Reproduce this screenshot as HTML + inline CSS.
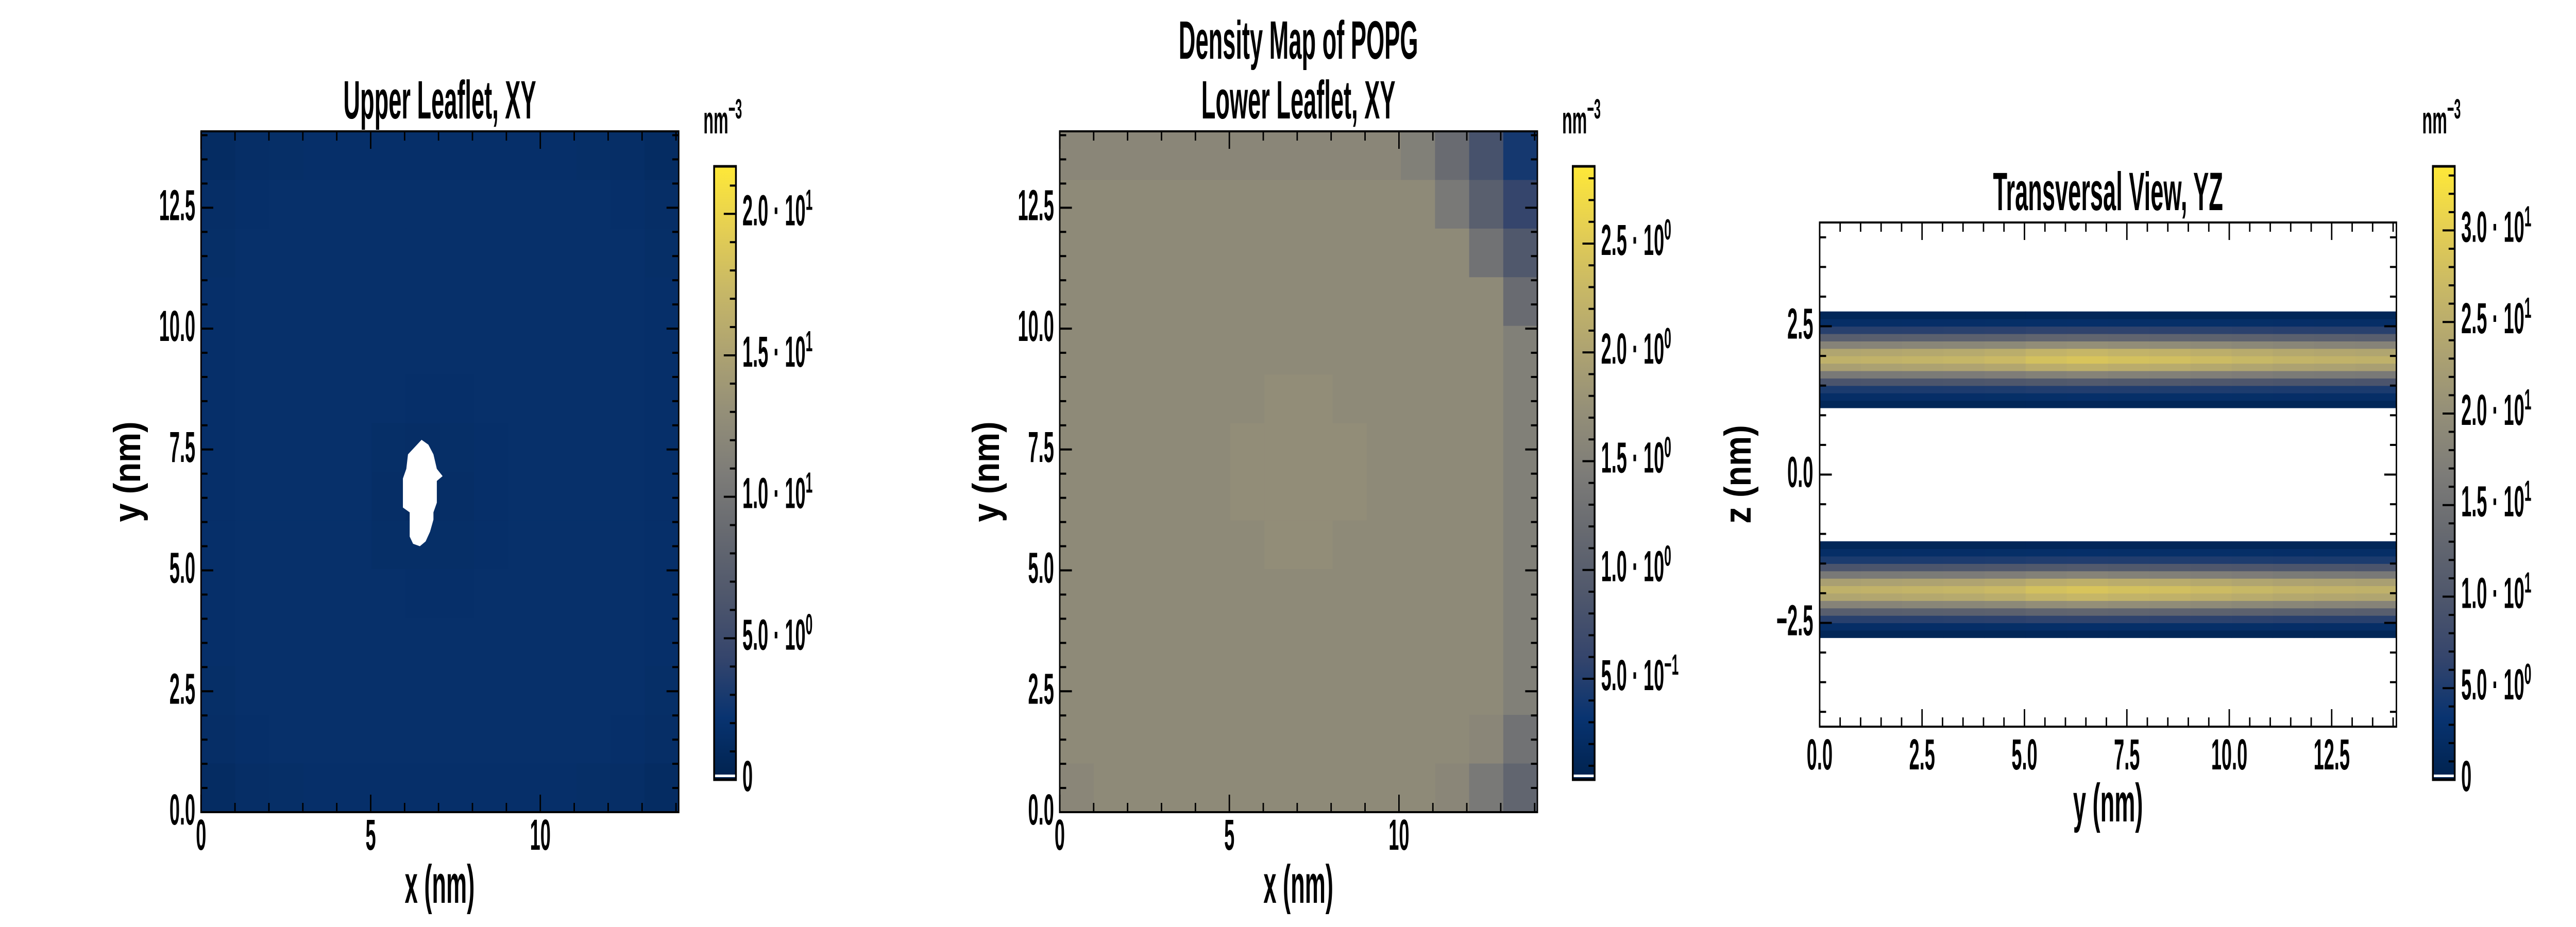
<!DOCTYPE html>
<html><head><meta charset="utf-8">
<style>
html,body{margin:0;padding:0;background:#fff;overflow:hidden;width:100vw;height:100vh;}
svg{display:block;width:100vw;height:100vh;}
text{font-family:"Liberation Sans",sans-serif;font-weight:bold;fill:#000;}
</style></head>
<body>
<svg id="fig" xmlns="http://www.w3.org/2000/svg" viewBox="0 0 7200 1800" preserveAspectRatio="none">
<defs>
<linearGradient id="cividis" x1="0" y1="1" x2="0" y2="0">
<stop offset="0" stop-color="#00224e"/><stop offset="0.1" stop-color="#083370"/><stop offset="0.2" stop-color="#35456c"/>
<stop offset="0.3" stop-color="#4f576c"/><stop offset="0.4" stop-color="#666970"/><stop offset="0.5" stop-color="#7d7c78"/>
<stop offset="0.6" stop-color="#948f78"/><stop offset="0.7" stop-color="#aea371"/><stop offset="0.8" stop-color="#c8b866"/>
<stop offset="0.9" stop-color="#e5cf52"/><stop offset="1" stop-color="#fee838"/>
</linearGradient>
</defs>
</svg>
<script>
// ---------- data ----------
// Panel 1: upper leaflet density (14x14 grid, rows from top y=13..14 down to y=0..1), nm^-3
const p1Rows = [
[1.3,1.5,1.6,1.7,1.7,1.7,1.7,1.7,1.7,1.7,1.7,1.6,1.5,1.3],
[1.5,1.7,1.8,1.8,1.8,1.8,1.8,1.8,1.8,1.8,1.8,1.8,1.7,1.5],
[1.6,1.8,1.8,1.8,1.8,1.8,1.8,1.8,1.8,1.8,1.8,1.8,1.8,1.6],
[1.7,1.8,1.8,1.8,1.8,1.8,1.8,1.8,1.8,1.8,1.8,1.8,1.8,1.7],
[1.7,1.8,1.8,1.8,1.8,1.8,1.8,1.8,1.8,1.8,1.8,1.8,1.8,1.7],
[1.7,1.8,1.8,1.8,1.8,1.8,1.7,1.7,1.8,1.8,1.8,1.8,1.8,1.7],
[1.7,1.8,1.8,1.8,1.8,1.6,1.5,1.6,1.7,1.8,1.8,1.8,1.8,1.7],
[1.7,1.8,1.8,1.8,1.8,1.5,1.3,1.5,1.7,1.8,1.8,1.8,1.8,1.7],
[1.7,1.8,1.8,1.8,1.8,1.6,1.6,1.6,1.7,1.8,1.8,1.8,1.8,1.7],
[1.7,1.8,1.8,1.8,1.8,1.8,1.7,1.7,1.8,1.8,1.8,1.8,1.8,1.7],
[1.7,1.8,1.8,1.8,1.8,1.8,1.8,1.8,1.8,1.8,1.8,1.8,1.8,1.7],
[1.6,1.8,1.8,1.8,1.8,1.8,1.8,1.8,1.8,1.8,1.8,1.8,1.8,1.6],
[1.5,1.7,1.8,1.8,1.8,1.8,1.8,1.8,1.8,1.8,1.8,1.8,1.7,1.5],
[1.3,1.5,1.6,1.7,1.7,1.7,1.7,1.7,1.7,1.7,1.7,1.6,1.5,1.3]
];
// Empty (white) region in the upper leaflet, polygon in nm
const p1HoleX = [6.5,6.7,6.85,6.95,7.12,6.95,6.95,6.85,6.85,6.75,6.62,6.45,6.25,6.15,6.15,5.95,5.95,6.05,6.1,6.3];
const p1HoleY = [7.7,7.6,7.4,7.1,6.95,6.85,6.4,6.2,6.05,5.8,5.6,5.5,5.55,5.7,6.2,6.3,6.9,7.1,7.4,7.55];
// Panel 2: lower leaflet density (14x14 grid, top row first)
const p2Rows = [
[1.6,1.6,1.6,1.6,1.6,1.6,1.6,1.6,1.6,1.6,1.5,1.2,0.8,0.4],
[1.65,1.65,1.65,1.65,1.65,1.65,1.65,1.65,1.65,1.65,1.65,1.4,1.0,0.6],
[1.65,1.65,1.65,1.65,1.65,1.65,1.65,1.65,1.65,1.65,1.65,1.65,1.3,0.9],
[1.65,1.65,1.65,1.65,1.65,1.65,1.65,1.65,1.65,1.65,1.65,1.65,1.65,1.2],
[1.65,1.65,1.65,1.65,1.65,1.65,1.65,1.65,1.65,1.65,1.65,1.65,1.65,1.5],
[1.65,1.65,1.65,1.65,1.65,1.65,1.7,1.7,1.65,1.65,1.65,1.65,1.65,1.5],
[1.65,1.65,1.65,1.65,1.65,1.7,1.7,1.7,1.7,1.65,1.65,1.65,1.65,1.5],
[1.65,1.65,1.65,1.65,1.65,1.7,1.7,1.7,1.7,1.65,1.65,1.65,1.65,1.5],
[1.65,1.65,1.65,1.65,1.65,1.65,1.7,1.7,1.65,1.65,1.65,1.65,1.65,1.5],
[1.65,1.65,1.65,1.65,1.65,1.65,1.65,1.65,1.65,1.65,1.65,1.65,1.65,1.5],
[1.65,1.65,1.65,1.65,1.65,1.65,1.65,1.65,1.65,1.65,1.65,1.65,1.65,1.5],
[1.65,1.65,1.65,1.65,1.65,1.65,1.65,1.65,1.65,1.65,1.65,1.65,1.65,1.5],
[1.65,1.65,1.65,1.65,1.65,1.65,1.65,1.65,1.65,1.65,1.65,1.65,1.6,1.3],
[1.6,1.65,1.65,1.65,1.65,1.65,1.65,1.65,1.65,1.65,1.65,1.6,1.4,1.1]
];
// Panel 3: z-profile (68 bins of 0.125 nm from -4.25 to 4.25), nm^-3; null = empty
const p3Profile = [
null,null,null,null,null,null,null,null,null,null,null,null,
1.0,2.5,6,12,19,25,27,24,17,10,5,2.5,1.0,
null,null,null,null,null,null,null,null,null,null,null,null,null,null,null,null,null,null,
1.0,2.5,5,10,17,24,27,25,19,12,6,2.5,1.0,
null,null,null,null,null,null,null,null,null,null,null,null
];
// Panel 3: relative modulation along y (14 bins)
const p3YMod = [0.95,0.96,0.97,0.98,1.0,1.04,1.06,1.04,1.03,1.01,0.99,0.97,0.96,0.95];
// Tick labels
const xyTicks = [0,5,10];
const xyTickLabels = ["0","5","10"];
const xyYTicks = [0,2.5,5,7.5,10,12.5];
const xyYTickLabels = ["0.0","2.5","5.0","7.5","10.0","12.5"];
const yzXTicks = [0,2.5,5,7.5,10,12.5];
const yzXTickLabels = ["0.0","2.5","5.0","7.5","10.0","12.5"];
const yzZTicks = [-2.5,0,2.5];
const yzZTickLabels = ["\u22122.5","0.0","2.5"];
const cb1Ticks = [0,5,10,15,20];
const cb1Mant = ["0","5.0","1.0","1.5","2.0"];
const cb1Exp = ["","0","1","1","1"];
const cb2Ticks = [0.5,1.0,1.5,2.0,2.5];
const cb2Mant = ["5.0","1.0","1.5","2.0","2.5"];
const cb2Exp = ["\u22121","0","0","0","0"];
const cb3Ticks = [0,5,10,15,20,25,30];
const cb3Mant = ["0","5.0","1.0","1.5","2.0","2.5","3.0"];
const cb3Exp = ["","0","1","1","1","1","1"];
const BOX = 14.08;
const cb1Range = [0,21.68], cb2Range = [0.036,2.855], cb3Range = [0,33.5];

// ---------- helpers ----------
const NS="http://www.w3.org/2000/svg";
const svg=document.getElementById('fig');
const cmapStops=[[0,0,34,78],[0.1,8,51,112],[0.2,53,69,108],[0.3,79,87,108],[0.4,102,105,112],[0.5,125,124,120],[0.6,148,143,120],[0.7,174,163,113],[0.8,200,184,102],[0.9,229,207,82],[1,254,232,56]];
function cmap(t){t=Math.max(0,Math.min(1,t));for(let i=1;i<cmapStops.length;i++){const a=cmapStops[i-1],b=cmapStops[i];if(t<=b[0]){const f=(t-a[0])/(b[0]-a[0]);return `rgb(${Math.round(a[1]+f*(b[1]-a[1]))},${Math.round(a[2]+f*(b[2]-a[2]))},${Math.round(a[3]+f*(b[3]-a[3]))})`;}}return 'rgb(254,232,56)';}
function el(tag,attrs,parent){const e=document.createElementNS(NS,tag);for(const k in attrs)e.setAttribute(k,attrs[k]);(parent||svg).appendChild(e);return e;}
const SX=0.62;
function txt(x,y,str,size,anchor,parent,rot){
  const t=el('text',{x:0,y:0,'font-size':size,'text-anchor':anchor||'start',transform:`translate(${x},${y})${rot?' rotate('+rot+')':''} scale(${SX},1)`},parent);
  t.textContent=str;return t;}
function sciLabel(x,y,mant,exp,parent){
  const t=el('text',{x:0,y:0,'font-size':84,transform:`translate(${x},${y}) scale(${SX},1)`},parent);
  if(exp===""){t.textContent=mant;return t;}
  const a=document.createElementNS(NS,'tspan');a.textContent=mant+" \u00b7 10";t.appendChild(a);
  const b=document.createElementNS(NS,'tspan');b.setAttribute('dy','-30');b.setAttribute('font-size','57');b.textContent=exp;t.appendChild(b);
  return t;}

function makeAxes(name,X0,X1,Y0,Y1,xd,yd){
  const sx=v=>X0+(v-xd[0])/(xd[1]-xd[0])*(X1-X0);
  const sy=v=>Y1-(v-yd[0])/(yd[1]-yd[0])*(Y1-Y0);
  return {sx,sy,X0,X1,Y0,Y1};
}
function drawFrameTicks(ax,g,xMajor,xMinorStep,yMajor,yMinorStep,xd,yd){
  const tg=el('g',{stroke:'#000','stroke-width':4},g);
  
  
  const eps=1e-6;
  for(let v=Math.ceil(xd[0]/xMinorStep)*xMinorStep;v<=xd[1]+eps;v+=xMinorStep){
    const major=xMajor.some(m=>Math.abs(m-v)<eps);const L=major?34:18;const x=ax.sx(v);
    el('line',{x1:x,y1:ax.Y1,x2:x,y2:ax.Y1-L},tg);el('line',{x1:x,y1:ax.Y0,x2:x,y2:ax.Y0+L},tg);}
  for(let v=Math.ceil(yd[0]/yMinorStep-eps)*yMinorStep;v<=yd[1]+eps;v+=yMinorStep){
    const major=yMajor.some(m=>Math.abs(m-v)<eps);const L=major?34:18;const y=ax.sy(v);
    el('line',{x1:ax.X0,y1:y,x2:ax.X0+L,y2:y},tg);el('line',{x1:ax.X1,y1:y,x2:ax.X1-L,y2:y},tg);}
  const fr=el('rect',{x:ax.X0,y:ax.Y0,width:ax.X1-ax.X0,height:ax.Y1-ax.Y0,fill:'none',stroke:'#000','stroke-width':4},g);
  
  
}
function drawGrid(ax,g,rows,vmax,vmin){
  const n=rows.length;const cw=BOX/rows[0].length,ch=BOX/n;
  rows.forEach((row,ri)=>{row.forEach((v,ci)=>{
    if(v===null)return;
    const yTop=BOX-ri*ch;const x=ax.sx(ci*cw),y=ax.sy(yTop);
    const r=el('rect',{x:x,y:y,width:ax.sx((ci+1)*cw)-x+0.6,height:ax.sy(yTop-ch)-y+0.6,fill:cmap((v-vmin)/(vmax-vmin))},g);
    
    
  });});
}
function drawColorbar(name,X0,X1,Y0,Y1,range,ticks,mant,exp,minorStep){
  const g=el('g',{});
  
  
  const r=el('rect',{x:X0,y:Y0,width:X1-X0,height:Y1-Y0,fill:'url(#cividis)'},g);
  
  
  const w=el('rect',{x:X0+2,y:Y1-10,width:X1-X0-4,height:5,fill:'#fff'},g);
  
  
  const sy=v=>Y1-(v-range[0])/(range[1]-range[0])*(Y1-Y0);
  const tg=el('g',{stroke:'#000','stroke-width':4},g);
  for(let v=Math.ceil(range[0]/minorStep)*minorStep;v<=range[1];v+=minorStep){
    const major=ticks.some(m=>Math.abs(m-v)<1e-6);const y=sy(v);
    el('line',{x1:X1,y1:y,x2:X1-(major?34:17),y2:y},tg);}
  ticks.forEach((v,i)=>{const lab=sciLabel(X1+18,sy(v)+22,mant[i],exp[i],g);
    
    });
  const fr=el('rect',{x:X0,y:Y0,width:X1-X0,height:Y1-Y0,fill:'none',stroke:'#000','stroke-width':5},g);
  
  
  const u=el('text',{x:0,y:0,'font-size':75,transform:`translate(${X0-30},259) scale(${SX},1)`},g);
  
  
  const a=document.createElementNS(NS,'tspan');a.textContent='nm';u.appendChild(a);
  const b=document.createElementNS(NS,'tspan');b.setAttribute('dy','-29');b.setAttribute('font-size','54');b.textContent='\u22123';u.appendChild(b);
}

// ---------- Panel 1 ----------
(function(){
  const g=el('g',{});
  
  
  const ax=makeAxes('p1',562,1897,255,1577,[0,BOX],[0,BOX]);
  const hg=el('g',{},g);
  
  
  drawGrid(ax,hg,p1Rows,cb1Range[1],cb1Range[0]);
  const pts=p1HoleX.map((x,i)=>ax.sx(x)+','+ax.sy(p1HoleY[i])).join(' ');
  const hole=el('polygon',{points:pts,fill:'#fff'},hg);
  
  
  drawFrameTicks(ax,g,xyTicks,1,xyYTicks,0.5,[0,BOX],[0,BOX]);
  xyTicks.forEach((v,i)=>{const t=txt(ax.sx(v),1650,xyTickLabels[i],84,'middle',g);
    
    });
  xyYTicks.forEach((v,i)=>{const t=txt(546,ax.sy(v)+24,xyYTickLabels[i],84,'end',g);
    
    });
  const ti=txt(1229,230,'Upper Leaflet, XY',105,'middle',g);
  
  
  const xl=txt(1229,1753,'x (nm)',105,'middle',g);
  
  
  const yl=txt(392,916,'y (nm)',105,'middle',g,-90);
  
  
})();
drawColorbar('upper-leaflet-colorbar',1996,2057,323,1514,cb1Range,cb1Ticks,cb1Mant,cb1Exp,1);

// ---------- Panel 2 ----------
(function(){
  const g=el('g',{});
  
  
  const ax=makeAxes('p2',2962,4297,255,1577,[0,BOX],[0,BOX]);
  const hg=el('g',{},g);
  
  
  drawGrid(ax,hg,p2Rows,cb2Range[1],cb2Range[0]);
  drawFrameTicks(ax,g,xyTicks,1,xyYTicks,0.5,[0,BOX],[0,BOX]);
  xyTicks.forEach((v,i)=>{const t=txt(ax.sx(v),1650,xyTickLabels[i],84,'middle',g);
    
    });
  xyYTicks.forEach((v,i)=>{const t=txt(2946,ax.sy(v)+24,xyYTickLabels[i],84,'end',g);
    
    });
  const st=txt(3629,114,'Density Map of POPG',105,'middle',g);
  
  
  const ti=txt(3629,230,'Lower Leaflet, XY',105,'middle',g);
  
  
  const xl=txt(3629,1753,'x (nm)',105,'middle',g);
  
  
  const yl=txt(2792,916,'y (nm)',105,'middle',g,-90);
  
  
})();
drawColorbar('lower-leaflet-colorbar',4396,4457,323,1514,cb2Range,cb2Ticks,cb2Mant,cb2Exp,0.1);

// ---------- Panel 3 ----------
(function(){
  const g=el('g',{});
  
  
  const zd=[-4.25,4.25];
  const ax=makeAxes('p3',5086,6698,432,1411,[0,BOX],zd);
  const hg=el('g',{},g);
  
  
  const nz=p3Profile.length,dz=(zd[1]-zd[0])/nz,ny=p3YMod.length,dy=BOX/ny;
  p3Profile.forEach((pv,zi)=>{
    if(pv===null)return;
    p3YMod.forEach((m,yi)=>{
      const v=pv*m;const zTop=zd[0]+(zi+1)*dz;
      const x=ax.sx(yi*dy),y=ax.sy(zTop);
      const r=el('rect',{x:x,y:y,width:ax.sx((yi+1)*dy)-x+0.6,height:ax.sy(zTop-dz)-y+0.6,fill:cmap((v-cb3Range[0])/(cb3Range[1]-cb3Range[0]))},hg);
      
      
    });
  });
  drawFrameTicks(ax,g,yzXTicks,0.5,yzZTicks,0.5,[0,BOX],zd);
  yzXTicks.forEach((v,i)=>{const t=txt(ax.sx(v),1494,yzXTickLabels[i],84,'middle',g);
    
    });
  yzZTicks.forEach((v,i)=>{const t=txt(5068,ax.sy(v)+24,yzZTickLabels[i],84,'end',g);
    
    });
  const ti=txt(5892,408,'Transversal View, YZ',105,'middle',g);
  
  
  const xl=txt(5892,1595,'y (nm)',105,'middle',g);
  
  
  const yl=txt(4893,921,'z (nm)',105,'middle',g,-90);
  
  
})();
drawColorbar('transversal-colorbar',6800,6861,323,1514,cb3Range,cb3Ticks,cb3Mant,cb3Exp,1);
</script>
</body></html>
